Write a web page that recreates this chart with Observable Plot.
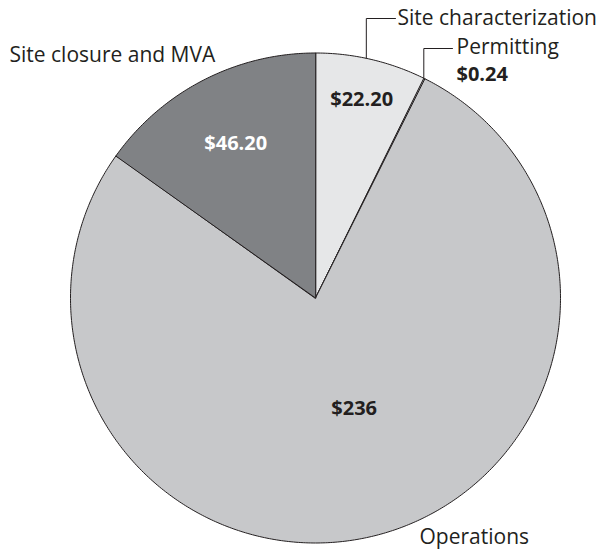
<!DOCTYPE html>
<html>
<head>
<meta charset="utf-8">
<script src="https://cdn.jsdelivr.net/npm/d3@7"></script>
<script src="https://cdn.jsdelivr.net/npm/@observablehq/plot@0.6"></script>
<style>
  html, body { margin: 0; padding: 0; background: #fff; }
  #chart svg { display: block; }
</style>
</head>
<body>
<div id="chart"></div>
<script>
// Data (clockwise from 12 o'clock)
const categories = ["Site characterization", "Permitting", "Operations", "Site closure and MVA"];
const values = [22.20, 0.24, 236, 46.20];
const valueLabels = ["$22.20", "$0.24", "$236", "$46.20"];
const colors = ["#e6e7e8", "#c7c8ca", "#c7c8ca", "#808285"];

// Layout (pixels)
const W = 604, H = 550;
const cx = 315, cy = 297.5, R = 245;
const X = px => (px - cx) / R;   // pixel -> data units
const Y = py => (cy - py) / R;

const pie = d3.pie().sort(null).value(d => d.value)(
  categories.map((c, i) => ({category: c, value: values[i], color: colors[i], label: valueLabels[i]}))
);

// polygon points for each slice (angle measured clockwise from top)
const slicePts = [];
pie.forEach(s => {
  const n = Math.max(2, Math.ceil((s.endAngle - s.startAngle) / 0.01));
  slicePts.push({category: s.data.category, color: s.data.color, x: 0, y: 0});
  for (let k = 0; k <= n; k++) {
    const a = s.startAngle + (s.endAngle - s.startAngle) * k / n;
    slicePts.push({category: s.data.category, color: s.data.color, x: Math.sin(a), y: Math.cos(a)});
  }
});

// in-slice value labels
const inside = [
  {i: 0, r: 0.83, fill: "#231f20"},
  {i: 3, r: 0.71, fill: "#ffffff"},
  {i: 2, r: 0.48, fill: "#231f20", shift: -0.09}
].map(o => {
  const s = pie[o.i];
  const a = (s.startAngle + s.endAngle) / 2 + (o.shift || 0);
  return {x: o.r * Math.sin(a), y: o.r * Math.cos(a), text: s.data.label, fill: o.fill};
});

// outside labels with leaders
const aChar = (pie[0].startAngle + pie[0].endAngle) / 2 - 0.02;
const aPerm = pie[1].startAngle;
const leaders = [
  {id: 0, x: Math.sin(aChar), y: Math.cos(aChar)}, {id: 0, x: Math.sin(aChar), y: Y(18)}, {id: 0, x: X(395), y: Y(18)},
  {id: 1, x: Math.sin(aPerm), y: Math.cos(aPerm)}, {id: 1, x: Math.sin(aPerm), y: Y(48)}, {id: 1, x: X(452), y: Y(48)}
];
const outside = [
  {x: X(397), y: Y(18), text: categories[0], weight: "normal"},
  {x: X(456), y: Y(47), text: categories[1], weight: "normal"},
  {x: X(456), y: Y(74), text: valueLabels[1], weight: "bold"},
  {x: X(9), y: Y(55), text: categories[3], weight: "normal"},
  {x: X(419), y: Y(537), text: categories[2], weight: "normal"}
];

const chart = Plot.plot({
  width: W, height: H,
  margin: 0,
  x: {domain: [X(0), X(W)], range: [0, W], axis: null},
  y: {domain: [Y(H), Y(0)], range: [H, 0], axis: null},
  style: {fontFamily: "'Open Sans', sans-serif"},
  marks: [
    Plot.line(slicePts, {x: "x", y: "y", z: "category", fill: "color", stroke: "#231f20", strokeWidth: 1, curve: "linear-closed"}),
    Plot.line(leaders, {x: "x", y: "y", z: "id", stroke: "#231f20", strokeWidth: 1}),
    Plot.text(inside, {x: "x", y: "y", text: "text", fill: "fill", fontSize: 20, fontWeight: "bold"}),
    Plot.text(outside.filter(d => d.weight === "normal"), {x: "x", y: "y", text: "text", fill: "#231f20", fontSize: 21, textAnchor: "start"}),
    Plot.text(outside.filter(d => d.weight === "bold"), {x: "x", y: "y", text: "text", fill: "#231f20", fontSize: 20, fontWeight: "bold", textAnchor: "start"})
  ]
});
document.getElementById("chart").appendChild(chart);
</script>
</body>
</html>
